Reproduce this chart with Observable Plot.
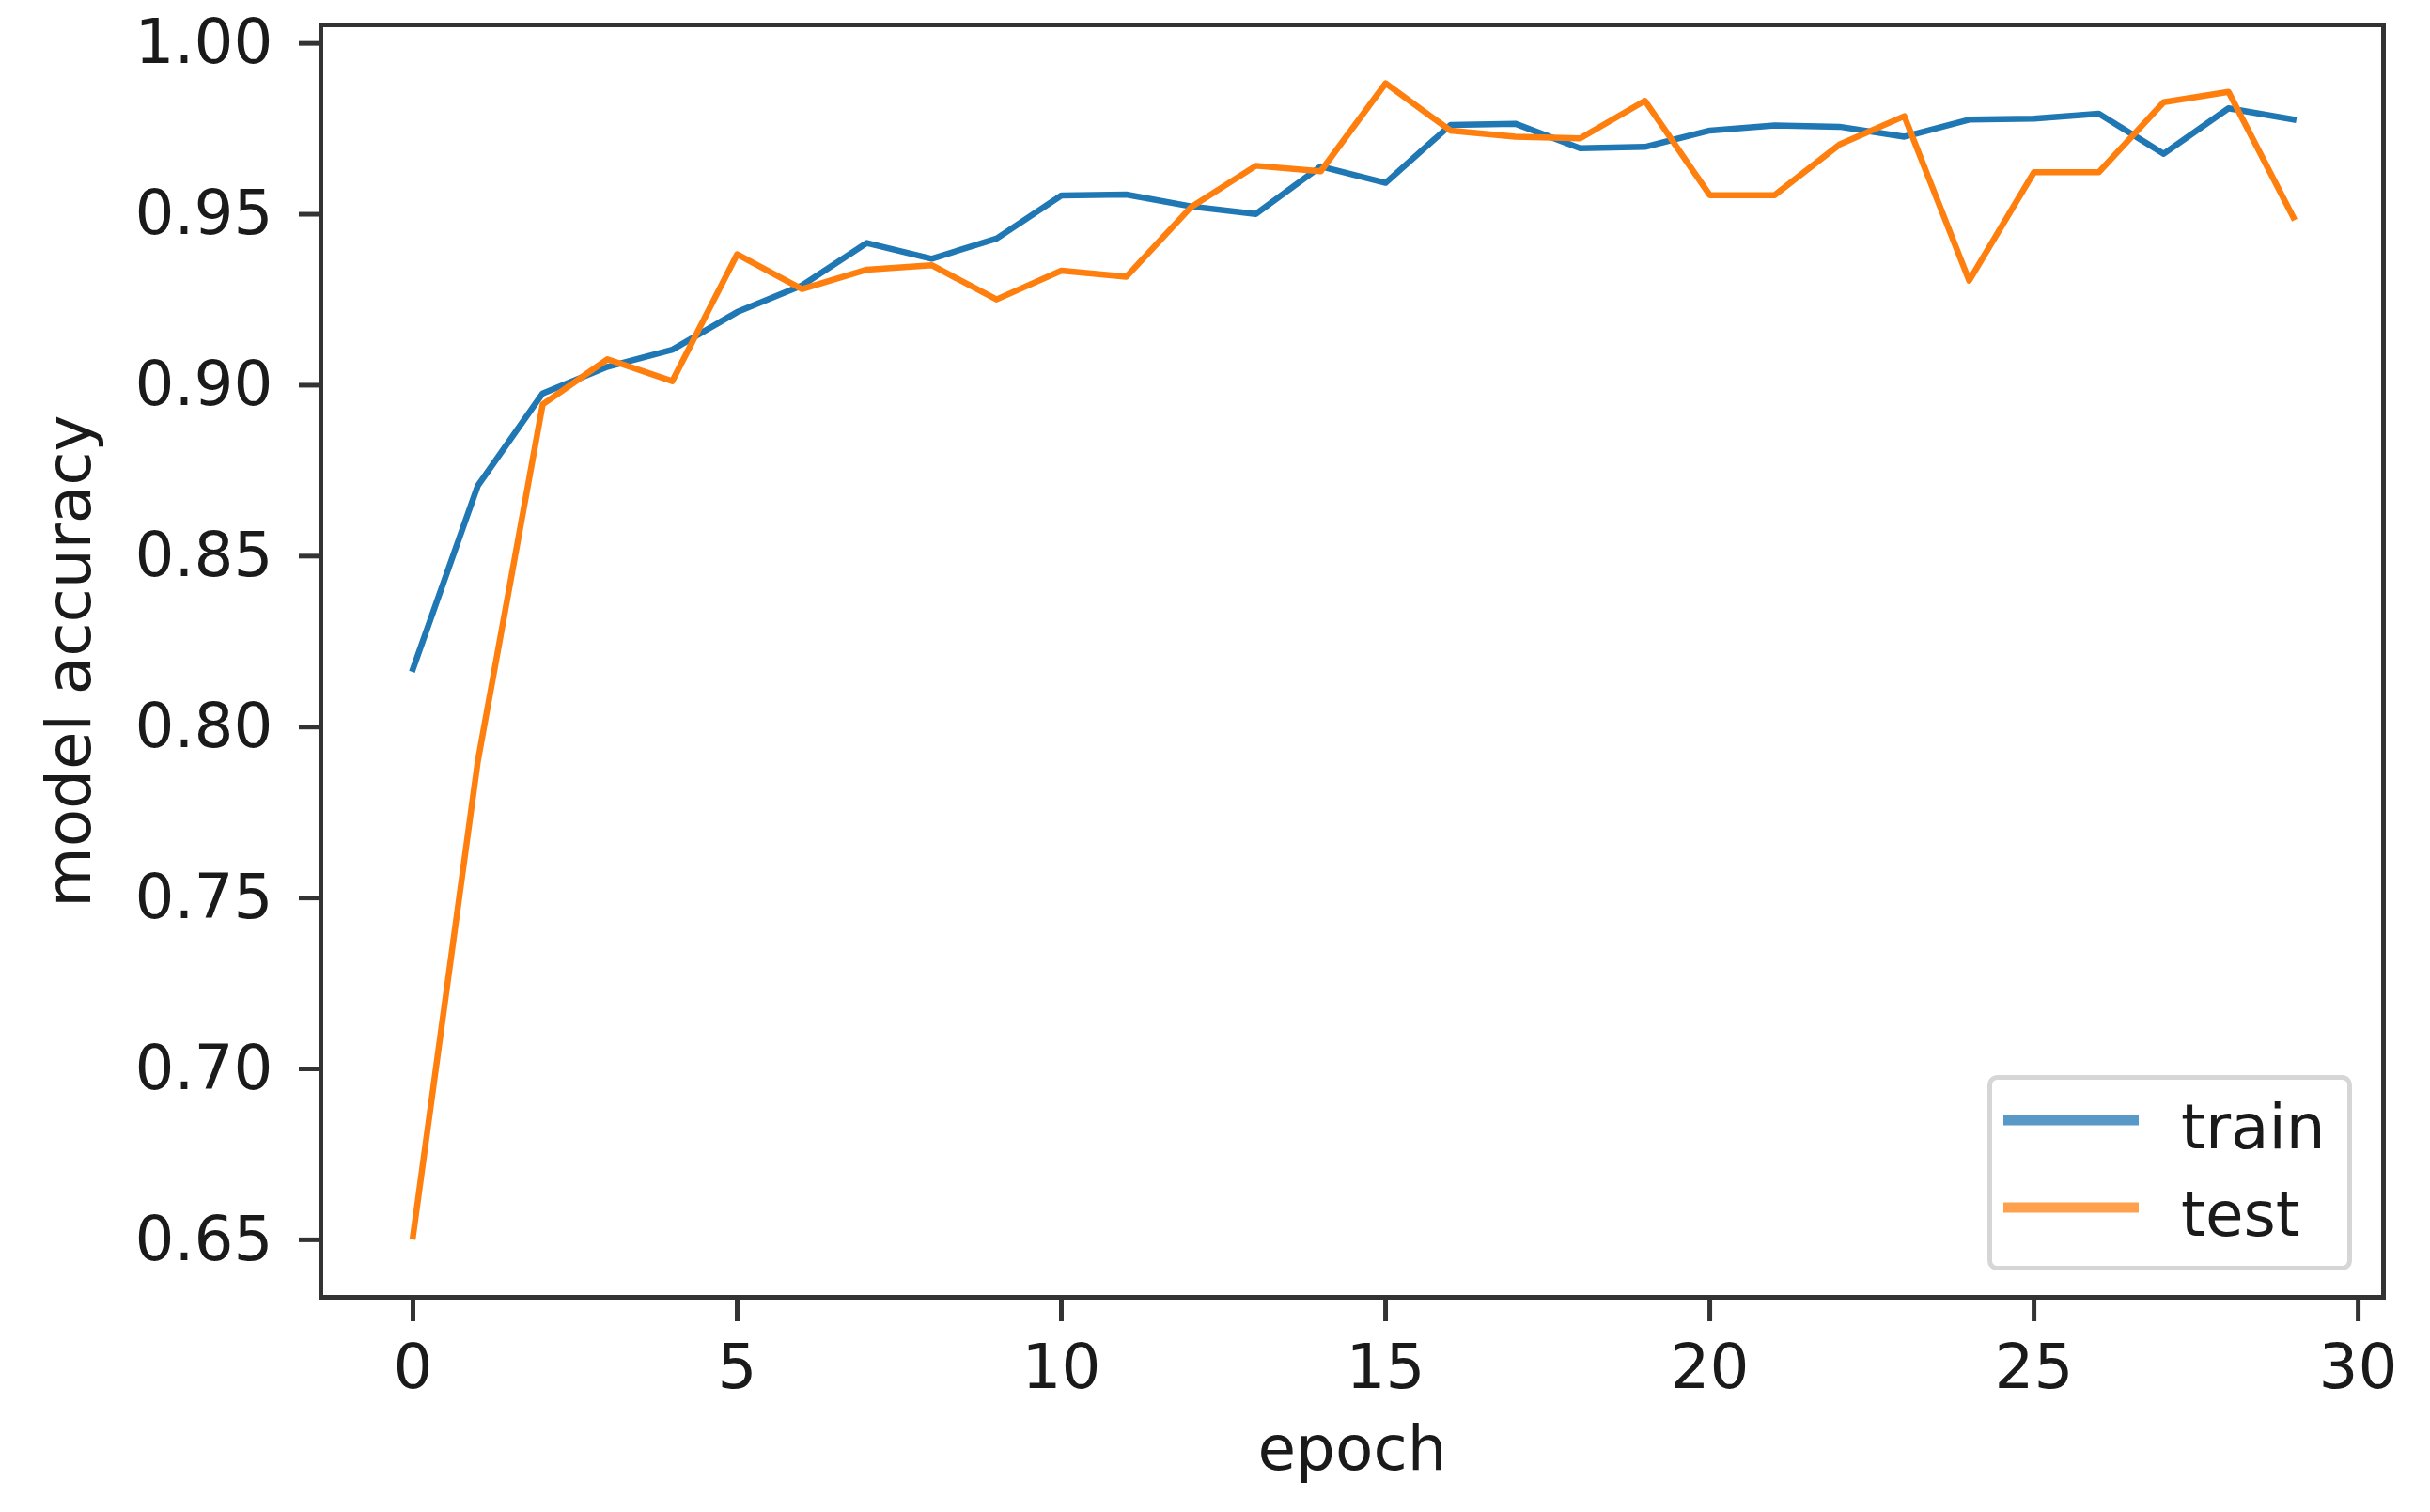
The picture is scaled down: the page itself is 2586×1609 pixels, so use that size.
<!DOCTYPE html>
<html>
<head>
<meta charset="utf-8">
<script src="https://cdn.jsdelivr.net/npm/d3@7"></script>
<script src="https://cdn.jsdelivr.net/npm/@observablehq/plot@0.6"></script>
<style>
  html, body { margin: 0; padding: 0; background: #fff; }
  #wrap { position: relative; width: 2586px; height: 1609px; overflow: hidden; }
  #legend { position: absolute; left: 2115px; top: 1144px; }
</style>
</head>
<body>
<div id="wrap"></div>
<script>
// ---- data ----
const epochs = [0,1,2,3,4,5,6,7,8,9,10,11,12,13,14,15,16,17,18,19,20,21,22,23,24,25,26,27,28,29];
const trainAcc = [0.817,0.8706,0.8976,0.9054,0.9104,0.9214,0.9292,0.9416,0.9370,0.9429,
                  0.9555,0.9558,0.9523,0.9501,0.9640,0.9592,0.9761,0.9765,0.9693,0.9697,
                  0.9745,0.9760,0.9756,0.9727,0.9777,0.9780,0.9794,0.9677,0.9810,0.9777];
const testAcc  = [0.651,0.790,0.8944,0.9076,0.9012,0.9383,0.9281,0.9338,0.9351,0.9251,
                  0.9335,0.9317,0.9521,0.9642,0.9626,0.9883,0.9745,0.9727,0.9722,0.9832,
                  0.9556,0.9556,0.9704,0.9787,0.9306,0.9623,0.9623,0.9828,0.9858,0.9491];
const seriesNames = ["train", "test"];
const seriesColors = ["#1f77b4", "#ff7f0e"];
const legendColors = ["#5899c8", "#ffa04c"];
const xTicks = [0, 5, 10, 15, 20, 25, 30];
const yTicks = [0.65, 0.70, 0.75, 0.80, 0.85, 0.90, 0.95, 1.00];
const xLabel = "epoch";
const yLabel = "model accuracy";

const rows = [
  ...epochs.map((e, i) => ({epoch: e, acc: trainAcc[i], series: seriesNames[0]})),
  ...epochs.map((e, i) => ({epoch: e, acc: testAcc[i], series: seriesNames[1]}))
];

const FONT = "'DejaVu Sans', sans-serif";

const chart = Plot.plot({
  width: 2586,
  height: 1609,
  marginLeft: 341,
  marginRight: 50,
  marginTop: 26,
  marginBottom: 229,
  style: {fontFamily: FONT, fontSize: "66px", color: "#1a1a1a", background: "#fff", overflow: "visible"},
  x: {domain: [-1.42, 30.39]},
  y: {domain: [0.6332, 1.0054]},
  color: {domain: seriesNames, range: seriesColors},
  marks: [
    Plot.line(rows, {x: "epoch", y: "acc", stroke: "series", z: "series",
      strokeWidth: 6.5, strokeLinejoin: "round", strokeLinecap: "square"}),
    Plot.frame({stroke: "#333", strokeWidth: 5}),
    Plot.axisX({ticks: xTicks, tickFormat: d3.format("d"), tickSize: 26, tickPadding: 24,
      stroke: "#333", strokeWidth: 5, fontSize: 66, label: null}),
    Plot.axisY({ticks: yTicks, tickFormat: d3.format(".2f"), tickSize: 23, tickPadding: 28,
      stroke: "#333", strokeWidth: 5, fontSize: 66, label: null}),
    Plot.text([xLabel], {text: d => d, frameAnchor: "bottom", dy: 183, lineAnchor: "bottom",
      textAnchor: "middle", fontSize: 66, fill: "#1a1a1a"}),
    Plot.text([yLabel], {text: d => d, frameAnchor: "left", dx: -246, rotate: -90,
      textAnchor: "middle", lineAnchor: "bottom", fontSize: 66, fill: "#1a1a1a"})
  ]
});

const wrap = document.getElementById("wrap");
wrap.appendChild(chart);

// ---- legend overlay (inside plot, lower right) ----
const lw = 388, lh = 208;
const legend = d3.select(wrap).append("svg")
  .attr("id", "legend")
  .attr("width", lw).attr("height", lh)
  .style("font-family", FONT);
legend.append("rect")
  .attr("x", 2.5).attr("y", 2.5).attr("width", lw - 5).attr("height", lh - 5)
  .attr("rx", 8).attr("fill", "#fff").attr("stroke", "#d6d6d6").attr("stroke-width", 5);
seriesNames.forEach((name, i) => {
  const cy = 48 + i * 93;
  legend.append("line")
    .attr("x1", 17).attr("x2", 161).attr("y1", cy).attr("y2", cy)
    .attr("stroke", legendColors[i]).attr("stroke-width", 11);
  legend.append("text")
    .attr("x", 206).attr("y", cy + 30)
    .attr("font-size", 66).attr("fill", "#1a1a1a")
    .text(name);
});
</script>
</body>
</html>
